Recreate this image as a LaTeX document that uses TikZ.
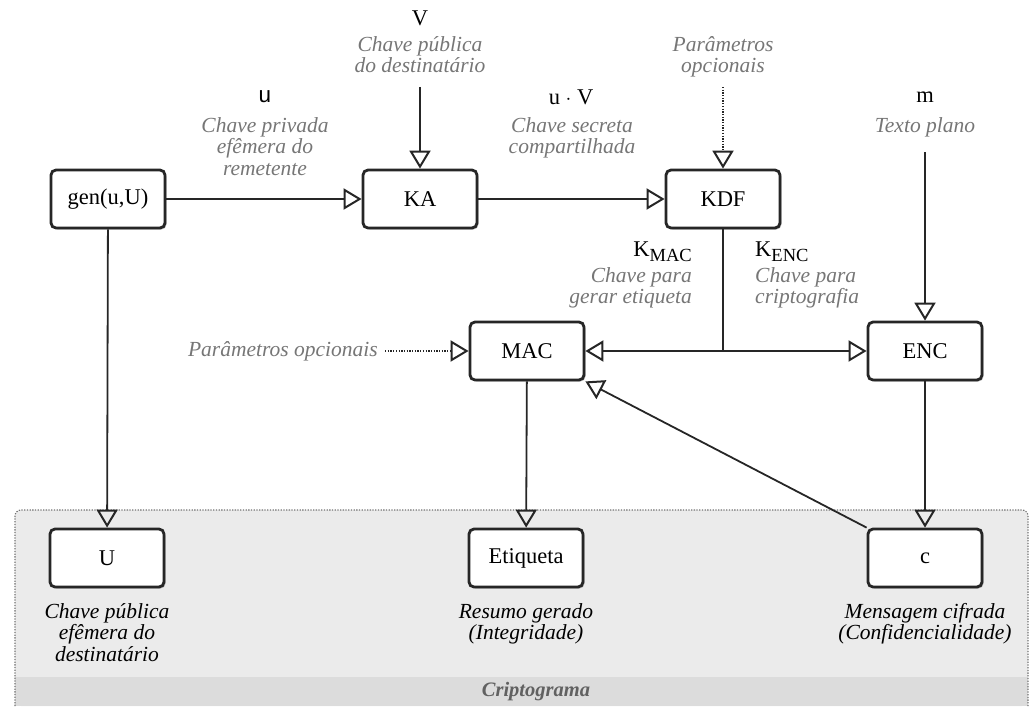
\documentclass[tikz,border=0pt]{standalone}
\usepackage{fontspec}
\setmainfont{Liberation Serif}
\newfontfamily\sansf{Liberation Sans}
\usetikzlibrary{arrows.meta,shadows}
\definecolor{lnc}{HTML}{262626}
\definecolor{lblgray}{HTML}{767676}
\definecolor{regfill}{HTML}{EBEBEB}
\definecolor{bandfill}{HTML}{DCDCDC}
\tikzset{
  box/.style={draw=lnc, line width=2.8pt, rounded corners=5pt, minimum width=114pt, minimum height=58pt,
    fill=white, font=\fontsize{22.5}{24}\selectfont, inner sep=0pt,
    drop shadow={shadow xshift=1.5pt, shadow yshift=-1.5pt, opacity=0.25, fill=black}},
  lab/.style={text=lblgray, font=\itshape\fontsize{21.5}{21.5}\selectfont, align=center, inner sep=0pt},
  blab/.style={text=black, font=\itshape\fontsize{21.5}{21.5}\selectfont, align=center, inner sep=0pt},
  sym/.style={text=black, font=\fontsize{22.5}{24}\selectfont, inner sep=0pt},
  conn/.style={draw=lnc, line width=1.8pt},
  arr/.style={conn, -{Triangle[open, length=18pt, width=21pt, line width=2pt]}},
  dots/.style={dash pattern=on 1.3pt off 1.4pt}
}
\begin{document}
\begin{tikzpicture}[x=1pt,y=-1pt]
\useasboundingbox (0,0) rectangle (1032,706);
% region
\fill[regfill, rounded corners=6pt] (15,510) rectangle (1028,706);
\fill[bandfill] (15,677) rectangle (1028,706);
\draw[black!55, line width=1.1pt, dots, rounded corners=6pt] (15,706) -- (15,510) -- (1028,510) -- (1028,706);
\node[text=black!62, font=\bfseries\itshape\fontsize{20.5}{22}\selectfont] (crip) at (536,692) {Criptograma};

% boxes
\node[box] (gen) at (108,199) {gen(u,U)};
\node[box] (KA) at (420,199) {KA};
\node[box] (KDF) at (723,199) {KDF};
\node[box] (MAC) at (527,351) {MAC};
\node[box] (ENC) at (925,351) {ENC};
\node[box] (U) at (107,558) {U};
\node[box] (Etq) at (526,558) {Etiqueta};
\node[box] (c) at (925,558) {c};

% top labels
\node[sym] (V) at (420,18) {V};
\node[lab, anchor=north] (Vlab) at (420,36) {Chave pública\\do destinatário};
\node[sym] (u) at (265,97) {\sansf u};
\node[lab, anchor=north] (ulab) at (265,117) {Chave privada\\efêmera do\\remetente};
\node[sym] (uV) at (571,97) {u $\cdot$ V};
\node[lab, anchor=north] (uVlab) at (572,117) {Chave secreta\\compartilhada};
\node[lab, anchor=north] (Plab) at (723,36) {Parâmetros\\opcionais};
\node[sym] (m) at (925,97) {m};
\node[lab, anchor=north] (mlab) at (925,117) {Texto plano};
\node[sym, anchor=east] (kmac) at (692,252) {K\raisebox{-5pt}{\fontsize{18.5}{18}\selectfont MAC}};
\node[lab, anchor=north east, align=right] (kmaclab) at (692,267) {Chave para\\gerar etiqueta};
\node[sym, anchor=west] (kenc) at (755,252) {K\raisebox{-5pt}{\fontsize{18.5}{18}\selectfont ENC}};
\node[lab, anchor=north west, align=left] (kenclab) at (755,267) {Chave para\\criptografia};
\node[lab, anchor=east] (popt) at (378,351) {Parâmetros opcionais};

% bottom labels
\node[blab, anchor=north] (Ulab) at (107,603) {Chave pública\\efêmera do\\destinatário};
\node[blab, anchor=north] (Elab) at (526,603) {Resumo gerado\\(Integridade)};
\node[blab, anchor=north] (clab) at (925,603) {Mensagem cifrada\\(Confidencialidade)};

% connectors
\coordinate (Vs) at (420,87);
\coordinate (Ps) at (723,87);
\coordinate (ms) at (925,152);
\coordinate (J) at (723,351);
\coordinate (po) at (385,351);
\draw[arr] (gen) -- (KA);
\draw[arr] (KA) -- (KDF);
\draw[arr] (Vs) -- (KA);
\draw[arr, dots] (Ps) -- (KDF);
\draw[arr] (gen) -- (U);
\draw[conn] (KDF) -- (J);
\draw[arr] (J) -- (MAC);
\draw[arr] (J) -- (ENC);
\draw[arr] (ms) -- (ENC);
\draw[arr, dots] (po) -- (MAC);
\draw[arr] (MAC) -- (Etq);
\draw[arr] (ENC) -- (c);
\draw[arr] (c.north west) -- (MAC.south east);
\end{tikzpicture}
\end{document}
